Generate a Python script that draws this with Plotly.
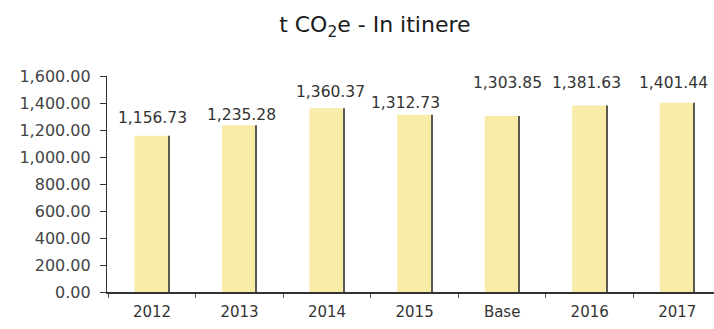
import plotly.graph_objects as go

# Emissions per year (t CO2e, commuting)
categories = ["2012", "2013", "2014", "2015", "Base", "2016", "2017"]
values = [1156.73, 1235.28, 1360.37, 1312.73, 1303.85, 1381.63, 1401.44]
y_ticks = [0, 200, 400, 600, 800, 1000, 1200, 1400, 1600]
y_tick_labels = [f"{v:,.2f}" for v in y_ticks]

# Layout of the value labels (height in data units above the axis)
label_heights = [1290, 1310, 1480, 1400, 1545, 1545, 1545]
label_xshift = [0, 2, 3, -9, 5, -3, -4]

FONT = "DejaVu Sans"
BAR_W = 0.4
EDGE_W = 0.012

fig = go.Figure()
fig.add_trace(go.Bar(
    x=categories, y=values, width=BAR_W,
    marker=dict(color="#F9EBA8", line=dict(width=0)),
    hoverinfo="x+y",
))
# dark shaded right edge of each column
fig.add_trace(go.Bar(
    x=categories, y=values, width=EDGE_W,
    offset=BAR_W / 2 - EDGE_W,
    marker=dict(color="#5a5a50", line=dict(width=0)),
    hoverinfo="skip",
))

for i, (v, h, dx) in enumerate(zip(values, label_heights, label_xshift)):
    fig.add_annotation(
        x=i, y=h, xref="x", yref="y", text=f"{v:,.2f}", showarrow=False,
        xshift=dx, font=dict(family=FONT, size=15.5, color="#333333"),
    )

fig.update_layout(
    width=714, height=329,
    margin=dict(l=107, r=0, t=76, b=37),
    paper_bgcolor="white", plot_bgcolor="white",
    showlegend=False, barmode="overlay",
    title=dict(
        text="t CO<sub>2</sub>e - In itinere",
        x=0.525, xanchor="center", y=0.925, yanchor="middle",
        font=dict(family=FONT, size=22, color="#1a1a1a"),
    ),
    xaxis=dict(
        type="category", range=[-0.514, 6.42],
        showline=True, linecolor="#333333", linewidth=1.5,
        ticks="outside", tickson="boundaries", ticklen=4,
        tickcolor="#555555", ticklabelstandoff=5, showgrid=False,
        tickfont=dict(family=FONT, size=15, color="#333333"),
    ),
    yaxis=dict(
        range=[0, 1600], tickvals=y_ticks, ticktext=y_tick_labels,
        showline=True, linecolor="#333333", linewidth=1.2,
        ticks="outside", ticklen=6, tickcolor="#333333",
        ticklabelstandoff=6,
        showgrid=False, zeroline=False,
        tickfont=dict(family=FONT, size=16, color="#444444"),
    ),
)

fig.write_html("out.html")
